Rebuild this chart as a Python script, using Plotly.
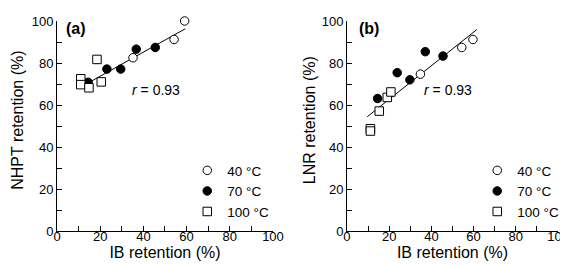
import plotly.graph_objects as go

# ---------------- data ----------------
temps = ["40 °C", "70 °C", "100 °C"]

# Panel (a): NHPT retention vs IB retention
a40_x = [35.2, 54.2, 59.1]
a40_y = [82.5, 91.2, 100.0]
a70_x = [14.4, 23.1, 29.5, 36.7, 45.5]
a70_y = [70.8, 77.1, 77.1, 86.6, 87.4]
a100_x = [11.0, 11.0, 14.8, 18.5, 20.5]
a100_y = [72.5, 69.7, 68.2, 81.7, 71.0]
a_fit_x = [14.4, 59.4]
a_fit_y = [70.5, 96.3]

# Panel (b): LNR retention vs IB retention
b40_x = [34.8, 54.4, 59.7]
b40_y = [74.7, 87.4, 91.2]
b70_x = [14.5, 23.8, 29.8, 37.1, 45.5]
b70_y = [63.1, 75.4, 72.0, 85.4, 83.3]
b100_x = [11.1, 11.1, 15.3, 19.1, 20.8]
b100_y = [48.7, 47.6, 57.1, 63.6, 66.2]
b_fit_x = [9.6, 61.5]
b_fit_y = [54.4, 95.9]

r_text = "<i>r</i> = 0.93"
panel_labels = ["(a)", "(b)"]
y_titles = ["NHPT retention (%)", "LNR retention (%)"]
x_title = "IB retention (%)"
tick_vals = [0, 20, 40, 60, 80, 100]

# ---------------- styles ----------------
FONT = "Liberation Sans, Arial, Helvetica, sans-serif"
MSIZE = 8.5
styles = {
    "40 °C": dict(symbol="circle", color="white", line=dict(color="black", width=1), size=MSIZE),
    "70 °C": dict(symbol="circle", color="black", line=dict(color="black", width=1), size=MSIZE),
    "100 °C": dict(symbol="square", color="white", line=dict(color="black", width=1), size=MSIZE),
}

fig = go.Figure()

panels = [
    ("x", "y", "legend", a_fit_x, a_fit_y, [(a40_x, a40_y), (a70_x, a70_y), (a100_x, a100_y)]),
    ("x2", "y2", "legend2", b_fit_x, b_fit_y, [(b40_x, b40_y), (b70_x, b70_y), (b100_x, b100_y)]),
]

for xa, ya, leg, fx, fy, series in panels:
    fig.add_trace(go.Scatter(x=fx, y=fy, mode="lines", line=dict(color="black", width=1),
                             xaxis=xa, yaxis=ya, showlegend=False, hoverinfo="skip", cliponaxis=False))
    for name, (sx, sy) in zip(temps, series):
        fig.add_trace(go.Scatter(x=sx, y=sy, mode="markers", name=name, marker=styles[name],
                                 xaxis=xa, yaxis=ya, legend=leg, cliponaxis=False))

axis_common = dict(
    range=[0, 100.001], tickvals=tick_vals, ticks="inside", ticklen=5, tickwidth=1, tickcolor="black",
    minor=dict(dtick=10, ticks="inside", ticklen=5, tickwidth=1, tickcolor="black"),
    showline=True, linecolor="black", linewidth=1, mirror=False, showgrid=False, zeroline=False,
    tickfont=dict(family=FONT, size=13, color="black"), ticklabeloverflow="allow",
)
x_common = dict(axis_common, ticklabelstandoff=-7,
                title=dict(text=x_title, font=dict(size=16), standoff=4))
y_common = dict(axis_common)

xdom_a = [0, 0.4311]
xdom_b = [0.5788, 1]
leg_x_rel = 0.26  # legend left edge, relative to each panel

fig.update_layout(
    width=568, height=265,
    margin=dict(l=49, r=18, t=6, b=42),
    paper_bgcolor="white", plot_bgcolor="white",
    font=dict(family=FONT, color="black"),
    xaxis=dict(domain=xdom_a, anchor="y", **x_common),
    yaxis=dict(domain=[0, 1], anchor="x", **y_common),
    xaxis2=dict(domain=xdom_b, anchor="y2", **x_common),
    yaxis2=dict(domain=[0, 1], anchor="x2", **y_common),
    legend=dict(x=xdom_a[0] + leg_x_rel, y=0.19, xanchor="left", yanchor="middle",
                bgcolor="rgba(0,0,0,0)", font=dict(size=13.5), tracegroupgap=0, itemwidth=30),
    legend2=dict(x=xdom_b[0] + leg_x_rel, y=0.19, xanchor="left", yanchor="middle",
                 bgcolor="rgba(0,0,0,0)", font=dict(size=13.5), tracegroupgap=0, itemwidth=30),
    showlegend=True,
)

annotations = []
# r values
annotations.append(dict(xref="x", yref="y", x=46, y=67, text=r_text, showarrow=False,
                        font=dict(size=14)))
annotations.append(dict(xref="x2", yref="y2", x=48, y=67, text=r_text, showarrow=False,
                        font=dict(size=14)))
# panel labels
annotations.append(dict(xref="x", yref="y", x=8.8, y=96.5, text="<b>" + panel_labels[0] + "</b>",
                        showarrow=False, font=dict(size=16)))
annotations.append(dict(xref="x2", yref="y2", x=10.4, y=96.5, text="<b>" + panel_labels[1] + "</b>",
                        showarrow=False, font=dict(size=16)))
# y-axis titles
annotations.append(dict(xref="paper", yref="paper", x=-0.0778, y=0.525, text=y_titles[0], textangle=-90,
                        showarrow=False, xanchor="center", yanchor="middle", font=dict(size=16)))
annotations.append(dict(xref="paper", yref="paper", x=0.504, y=0.525, text=y_titles[1], textangle=-90,
                        showarrow=False, xanchor="center", yanchor="middle", font=dict(size=16)))
fig.update_layout(annotations=annotations)

fig.write_html("out.html")
